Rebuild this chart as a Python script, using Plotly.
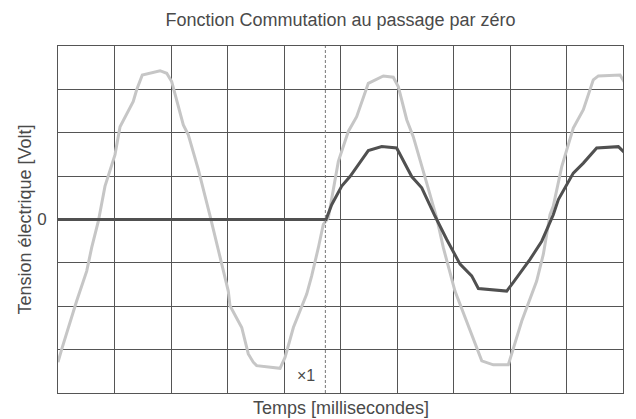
import plotly.graph_objects as go

# Reference (light) waveform: time in ms, voltage in V
t_ref = [0, 0.33, 1.65, 2.54, 2.98, 3.57, 4.16, 5.04, 5.49, 6.66, 6.96, 7.46, 9.03, 9.62,
         10.06, 10.65, 11.09, 11.53, 12.42, 13.45, 14.19, 15.07, 15.22, 16.26, 16.84, 17.28,
         17.58, 19.65, 20.09, 20.68, 20.83, 22.01, 22.45, 23.04, 23.48, 23.92, 24.81, 25.69,
         26.43, 27.46, 28.79, 29.67, 30.12, 30.86, 31.44, 32.63, 33.51, 34.1, 35.13, 37.5,
         38.52, 39.85, 40.15, 41.04, 42.36, 42.95, 43.54, 43.83, 44.58, 45.6, 46.49, 47.37,
         47.82, 49.74, 50.18]
v_ref = [-329, -299, -188, -119, -65, -4, 77, 149, 214, 272, 299, 333, 343, 337,
         318, 260, 218, 195, 115, 9, -73, -165, -199, -249, -310, -329,
         -337, -343, -318, -260, -249, -172, -130, -65, -11, 4, 134, 203,
         237, 314, 331, 328, 306, 230, 191, 84, 4, -65, -165, -326,
         -335, -335, -310, -234, -142, -80, 11, 31, 122, 211, 253, 322,
         331, 333, 314]

# Switched (dark) waveform
t_sw = [0, 23.72, 24.22, 25.11, 25.84, 27.46, 28.65, 29.97, 31.3, 32.19, 33.36, 34.4,
        35.58, 36.61, 37.2, 39.71, 40.29, 41.77, 42.81, 43.83, 44.28, 45.6, 46.49, 47.67,
        49.59, 50.18]
v_sw = [0, 0, 34, 77, 99, 159, 168, 165, 99, 73, 8, -46,
        -103, -130, -159, -165, -145, -92, -50, 11, 46, 107, 130, 165,
        168, 153]

switch_time = 23.66
y_ticks = [-400, -300, -200, -100, 0, 100, 200, 300, 400]
y_ticktext = ["", "", "", "", "0", "", "", "", ""]
x_ticks = [0, 5, 10, 15, 20, 25, 30, 35, 40, 45, 50]

title_text = "Fonction Commutation au passage par zéro"
x_title = "Temps [millisecondes]"
y_title = "Tension électrique [Volt]"
marker_text = "×1"

FONT = "Liberation Sans, Arial, Helvetica, sans-serif"
GRID = "#555555"
TXT = "#4a4a4a"

fig = go.Figure()
fig.add_trace(go.Scatter(x=t_ref, y=v_ref, mode="lines",
                         line=dict(color="#c6c6c6", width=3), hoverinfo="skip"))
fig.add_trace(go.Scatter(x=t_sw, y=v_sw, mode="lines",
                         line=dict(color="#505050", width=3), hoverinfo="skip"))

fig.add_shape(type="line", xref="x", yref="paper", x0=switch_time, x1=switch_time,
              y0=0, y1=1, line=dict(color="#777777", width=1, dash="3px,2px"))

fig.add_annotation(x=switch_time, y=-360, xref="x", yref="y", text=marker_text,
                   showarrow=False, xanchor="right", xshift=-8,
                   font=dict(family=FONT, size=16, color=TXT))

fig.add_annotation(x=0.5, y=-0.043, xref="paper", yref="paper", text=x_title,
                   showarrow=False, xanchor="center", yanchor="middle",
                   font=dict(family=FONT, size=18, color=TXT))
fig.add_annotation(x=-0.060, y=0.5, xref="paper", yref="paper", text=y_title,
                   showarrow=False, xanchor="center", yanchor="middle", textangle=-90,
                   font=dict(family=FONT, size=18, color=TXT))

fig.update_layout(
    width=628, height=411,
    margin=dict(l=50, r=13, t=38, b=26),
    paper_bgcolor="white", plot_bgcolor="white",
    showlegend=False,
    title=dict(text=title_text, x=0.5295, xanchor="center", y=0.971, yanchor="middle",
               font=dict(family=FONT, size=18, color=TXT)),
)
fig.update_xaxes(range=[0, 50], tickvals=x_ticks, showticklabels=False,
                 showgrid=True, gridcolor=GRID, gridwidth=1, zeroline=False,
                 showline=True, linecolor=GRID, linewidth=1, mirror=True, ticks="")
fig.update_yaxes(range=[-400, 400], tickvals=y_ticks, ticktext=y_ticktext,
                 showgrid=True, gridcolor=GRID, gridwidth=1, zeroline=False,
                 showline=True, linecolor=GRID, linewidth=1, mirror=True,
                 ticks="outside", ticklen=7, tickcolor="rgba(0,0,0,0)",
                 tickfont=dict(family=FONT, size=17, color=TXT))

fig.write_html("out.html")
